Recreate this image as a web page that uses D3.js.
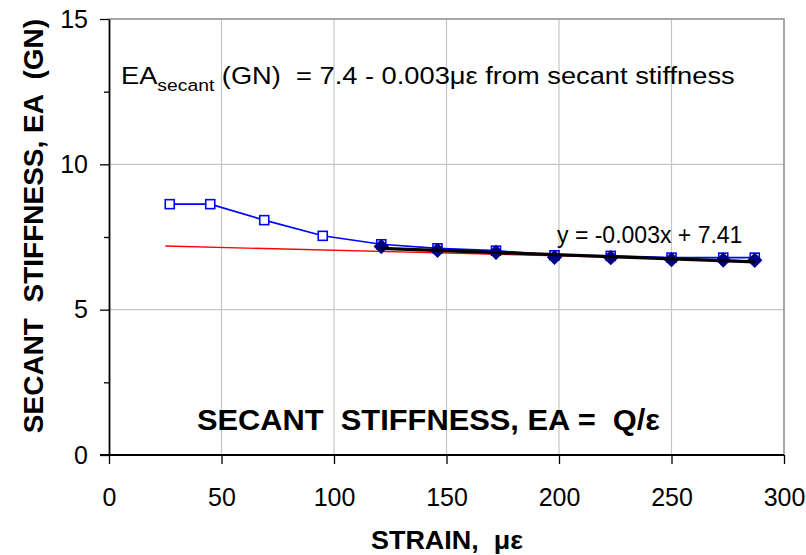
<!DOCTYPE html>
<html>
<head>
<meta charset="utf-8">
<script src="https://cdn.jsdelivr.net/npm/d3@7"></script>
<style>
  body { margin: 0; background: #fff; }
  text { font-family: "Liberation Sans", Arial, sans-serif; }
</style>
</head>
<body>
<div id="chart"></div>
<script>
// values
var strain = [27, 45, 69, 95, 121, 146, 172, 198, 223, 250, 273, 287];
var secant = [8.63, 8.63, 8.08, 7.54, 7.25, 7.11, 7.03, 6.87, 6.85, 6.79, 6.79, 6.79];

var fitStrain = [121, 146, 172, 198, 223, 250, 273, 287];
var fitEA = [7.17, 7.04, 6.97, 6.80, 6.79, 6.72, 6.71, 6.70];

// red line (EA = 7.4 - 0.003 strain, as drawn)
var redStrain = [25, 287];
var redEA = [7.19, 6.68];

var xTicks = [0, 50, 100, 150, 200, 250, 300];
var yTicks = [0, 5, 10, 15];
var yMinor = [2.5, 7.5, 12.5];

var W = 806, H = 555;

var svg = d3.select("#chart")
  .append("svg")
    .attr("width", W)
    .attr("height", H);

var x = d3.scaleLinear().domain([0, 300]).range([109, 784]);
var y = d3.scaleLinear().domain([0, 15]).range([455, 19]);

// squeeze/stretch a text horizontally to a given width
function fitWidth(sel, x0, y0, w) {
  var bw = sel.node().getBBox().width;
  sel.attr("transform", "translate(" + x0 + "," + y0 + ") scale(" + (w / bw) + ",1)");
}

// gridlines
svg.append("g")
  .selectAll("line")
  .data(xTicks.slice(1, -1))
  .enter().append("line")
    .attr("x1", function(d) { return x(d); })
    .attr("x2", function(d) { return x(d); })
    .attr("y1", y(0))
    .attr("y2", y(15))
    .attr("stroke", "#c6c6c6")
    .attr("stroke-width", 1.2);

svg.append("g")
  .selectAll("line")
  .data([5, 10])
  .enter().append("line")
    .attr("x1", x(0))
    .attr("x2", x(300))
    .attr("y1", function(d) { return y(d); })
    .attr("y2", function(d) { return y(d); })
    .attr("stroke", "#c6c6c6")
    .attr("stroke-width", 1.2);

// top and right border
svg.append("path")
  .attr("d", "M" + x(0) + "," + y(15) + "H" + x(300) + "V" + y(0))
  .attr("fill", "none")
  .attr("stroke", "#8a8a8a")
  .attr("stroke-width", 1.5);

// axes
var xAxis = svg.append("g")
  .attr("transform", "translate(0," + y(0) + ")")
  .call(d3.axisBottom(x).tickValues(xTicks).tickSize(9).tickSizeOuter(0).tickPadding(24)
        .tickFormat(d3.format("d")));
xAxis.select(".domain").attr("d", "M" + (x(0) - 9) + ",0H" + x(300)).attr("stroke-width", 1.8);
xAxis.selectAll("line").attr("stroke-width", 1.3);
xAxis.selectAll("text")
  .attr("font-size", 25)
  .attr("fill", "#000")
  .attr("font-family", "Liberation Sans, Arial, sans-serif");

var yAxis = svg.append("g")
  .attr("transform", "translate(" + x(0) + ",0)")
  .call(d3.axisLeft(y).tickValues(yTicks).tickSize(9).tickSizeOuter(0).tickPadding(12));
yAxis.select(".domain").attr("stroke-width", 1.8);
yAxis.selectAll("line").attr("stroke-width", 1.3);
yAxis.selectAll("text")
  .attr("font-size", 25)
  .attr("fill", "#000")
  .attr("font-family", "Liberation Sans, Arial, sans-serif");

svg.append("g")
  .attr("transform", "translate(" + x(0) + ",0)")
  .call(d3.axisLeft(y).tickValues(yMinor).tickSize(5).tickFormat(""))
  .call(function(g) { g.select(".domain").remove(); })
  .selectAll("line").attr("stroke-width", 1.3);

// red line
var line = d3.line()
  .x(function(d) { return x(d[0]); })
  .y(function(d) { return y(d[1]); });

svg.append("path")
  .datum(d3.zip(redStrain, redEA))
  .attr("d", line)
  .attr("fill", "none")
  .attr("stroke", "#ff0000")
  .attr("stroke-width", 1.3);

// blue series
var blue = d3.zip(strain, secant);
svg.append("path")
  .datum(blue)
  .attr("d", line)
  .attr("fill", "none")
  .attr("stroke", "#0000ff")
  .attr("stroke-width", 1.6);

svg.append("g")
  .selectAll("rect")
  .data(blue)
  .enter().append("rect")
    .attr("x", function(d) { return x(d[0]) - 4.5; })
    .attr("y", function(d) { return y(d[1]) - 4.5; })
    .attr("width", 9)
    .attr("height", 9)
    .attr("fill", "#fff")
    .attr("stroke", "#0000ff")
    .attr("stroke-width", 1.6);

// diamonds
var fit = d3.zip(fitStrain, fitEA);
svg.append("g")
  .selectAll("path")
  .data(fit)
  .enter().append("path")
    .attr("d", d3.symbol().type(d3.symbolDiamond2).size(150))
    .attr("transform", function(d) { return "translate(" + x(d[0]) + "," + y(d[1]) + ")"; })
    .attr("fill", "#000080");

// linear trendline through the diamonds
var mx = d3.mean(fitStrain), my = d3.mean(fitEA);
var sxy = d3.sum(fit, function(d) { return (d[0] - mx) * (d[1] - my); });
var sxx = d3.sum(fitStrain, function(v) { return (v - mx) * (v - mx); });
var slope = sxy / sxx, icpt = my - slope * mx;
var ext = d3.extent(fitStrain);
svg.append("path")
  .datum(ext.map(function(v) { return [v, icpt + slope * v]; }))
  .attr("d", line)
  .attr("fill", "none")
  .attr("stroke", "#000")
  .attr("stroke-width", 3.2);

// labels
svg.append("text")
  .attr("x", 557)
  .attr("y", 243)
  .attr("font-size", 23)
  .text("y = -0.003x + 7.41");

var eq = svg.append("text")
  .attr("font-size", 24)
  .style("white-space", "pre");
eq.append("tspan").text("EA");
eq.append("tspan").attr("font-size", 17).attr("dy", 7).text("secant");
eq.append("tspan").attr("dy", -7).text(" (GN)  = 7.4 - 0.003\u03bc\u03b5 from secant stiffness");
fitWidth(eq, 121, 84, 614);

var ttl = svg.append("text")
  .attr("font-size", 30)
  .attr("font-weight", "bold")
  .style("white-space", "pre")
  .text("SECANT  STIFFNESS, EA =  Q/\u03b5");
fitWidth(ttl, 197, 430, 463);

var xt = svg.append("text")
  .attr("font-size", 26)
  .attr("font-weight", "bold")
  .style("white-space", "pre")
  .text("STRAIN,  \u03bc\u03b5");
fitWidth(xt, 371, 549, 152);

svg.append("text")
  .attr("transform", "translate(43,226) rotate(-90)")
  .attr("text-anchor", "middle")
  .attr("font-size", 28)
  .attr("font-weight", "bold")
  .style("white-space", "pre")
  .text("SECANT  STIFFNESS, EA  (GN)");
</script>
</body>
</html>
